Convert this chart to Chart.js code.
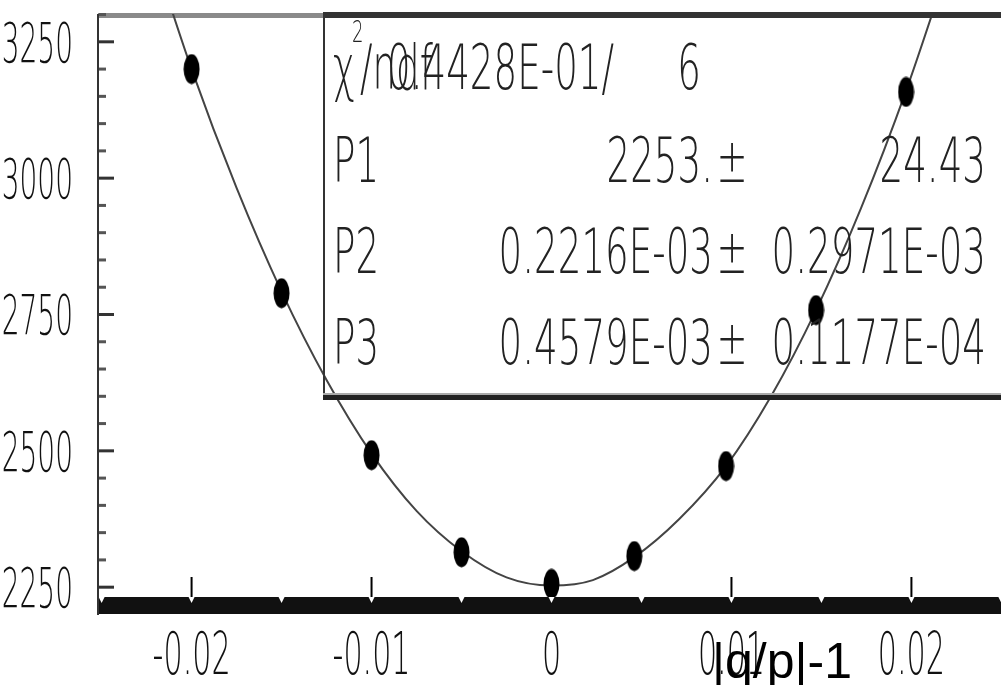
<!DOCTYPE html>
<html lang="en">
<head>
    <meta charset="UTF-8">
    <title>|q/p|-1 fit</title>
    <script src="https://cdn.jsdelivr.net/npm/chart.js"></script>
    <style>
        html, body { margin: 0; padding: 0; background: #fff; overflow: hidden; }
        canvas { display: block; }
    </style>
</head>
<body>
    <canvas id="fitChart" width="1015" height="685"></canvas>

    <script>
        // measured points
        const xValues = [-0.02, -0.015, -0.01, -0.005, 0, 0.0046, 0.0097, 0.0147, 0.0197];
        const yValues = [3200, 2789, 2492, 2314, 2256, 2307, 2472, 2758, 3158];

        // fitted curve
        const fitX = [-0.0225, -0.02, -0.0175, -0.015, -0.0125, -0.01, -0.0075, -0.005, -0.0025, 0,
                      0.0023, 0.0046, 0.0071, 0.0097, 0.0122, 0.0147, 0.0172, 0.0197, 0.0222];
        const fitY = [3450, 3200, 2982, 2792, 2630, 2495, 2390, 2316, 2268, 2253,
                      2263, 2305, 2375, 2472, 2600, 2758, 2945, 3160, 3405];

        // stats box
        const chi2Text = '0.4428E-01/';
        const ndfText = '6';
        const parNames = ['P1', 'P2', 'P3'];
        const parValues = ['2253.', '0.2216E-03', '0.4579E-03'];
        const parErrors = ['24.43', '0.2971E-03', '0.1177E-04'];

        const xTitle = '|q/p|-1';
        const xMajorStep = 0.01;
        const xMinorStep = 0.005;
        const yMajorStep = 250;
        const yMinorStep = 50;

        // narrow, thin text like the old plotting font
        function narrowText(ctx, str, x, y, size, sx, align, color) {
            ctx.save();
            ctx.font = '200 ' + size + 'px "DejaVu Sans"';
            ctx.fillStyle = color || '#222';
            ctx.textAlign = align;
            ctx.textBaseline = 'alphabetic';
            ctx.translate(x, y);
            ctx.scale(sx, 1);
            ctx.fillText(str, 0, 0);
            ctx.restore();
        }

        // elliptical marker
        const marker = document.createElement('canvas');
        marker.width = 17;
        marker.height = 31;
        const mctx = marker.getContext('2d');
        mctx.fillStyle = '#000';
        mctx.beginPath();
        mctx.ellipse(8.5, 15.5, 8, 15, 0, 0, Math.PI * 2);
        mctx.fill();

        function isStep(v, step) {
            return Math.abs(v / step - Math.round(v / step)) < 1e-6;
        }

        const framePlugin = {
            id: 'frame',
            beforeDatasetsDraw(chart) {
                const { ctx, chartArea, scales } = chart;
                const { left, top, right, bottom } = chartArea;
                ctx.save();

                // top edge
                ctx.fillStyle = '#8a8a8a';
                ctx.fillRect(left, top - 1, right - left, 5);

                // thick x axis band
                ctx.fillStyle = '#111';
                ctx.fillRect(left, bottom, right - left, 17);

                scales.x.ticks.forEach(t => {
                    if (!isStep(t.value, xMinorStep)) return;
                    const px = scales.x.getPixelForValue(t.value);
                    ctx.fillStyle = '#fff';
                    ctx.beginPath();
                    ctx.moveTo(px - 3, bottom);
                    ctx.lineTo(px + 3, bottom);
                    ctx.lineTo(px, bottom + 6);
                    ctx.closePath();
                    ctx.fill();
                    if (isStep(t.value, xMajorStep)) {
                        ctx.strokeStyle = '#000';
                        ctx.lineWidth = 2;
                        ctx.beginPath();
                        ctx.moveTo(px, bottom);
                        ctx.lineTo(px, bottom - 20);
                        ctx.stroke();
                    }
                });

                // y ticks drawn inward
                scales.y.ticks.forEach(t => {
                    if (!isStep(t.value, yMinorStep)) return;
                    const py = scales.y.getPixelForValue(t.value);
                    const major = isStep(t.value, yMajorStep);
                    ctx.fillStyle = major ? '#333' : '#555';
                    ctx.fillRect(left + 1, py - 1.5, major ? 15 : 7, 3);
                });

                // left axis
                ctx.fillStyle = '#333';
                ctx.fillRect(left - 1, top, 2, bottom + 18 - top);
                ctx.restore();
            },
            afterDraw(chart) {
                const { ctx, chartArea, scales } = chart;
                const { right } = chartArea;
                ctx.save();

                // stats box
                const bx = 323, by = 12, bb = 399;
                ctx.fillStyle = '#333';
                ctx.fillRect(bx, by, right - bx, 6);
                ctx.fillRect(bx, by, 2, bb - by);
                ctx.fillStyle = '#aaa';
                ctx.fillRect(bx, bb - 6, right - bx, 2);
                ctx.fillStyle = '#222';
                ctx.fillRect(bx, bb - 4, right - bx, 5);

                const size = 62, sx = 0.6;
                narrowText(ctx, '\u03c7', 333, 89, size, sx, 'left');
                narrowText(ctx, '2', 352, 42, 30, sx, 'left');
                narrowText(ctx, '/ndf', 360, 89, size, sx, 'left');
                narrowText(ctx, chi2Text, 614, 89, size, sx, 'right');
                narrowText(ctx, ndfText, 701, 89, size, sx, 'right');

                const rows = [182, 273, 364];
                parNames.forEach((name, i) => {
                    narrowText(ctx, name, 333, rows[i], size, sx, 'left');
                    narrowText(ctx, parValues[i], 713, rows[i], size, sx, 'right');
                    narrowText(ctx, '\u00b1', 732, rows[i], size, sx, 'center');
                    narrowText(ctx, parErrors[i], 986, rows[i], size, sx, 'right');
                });

                // axis labels
                scales.y.ticks.forEach(t => {
                    if (!isStep(t.value, yMajorStep)) return;
                    const py = scales.y.getPixelForValue(t.value);
                    narrowText(ctx, String(t.value), 73, py + 20, 56, 0.5, 'right', '#111');
                });
                scales.x.ticks.forEach(t => {
                    if (!isStep(t.value, xMajorStep)) return;
                    const v = Math.round(t.value / xMajorStep) * xMajorStep;
                    const label = v === 0 ? '0' : v.toFixed(2);
                    const px = scales.x.getPixelForValue(v);
                    narrowText(ctx, label, px, 674, 58, 0.52, 'center', '#111');
                });

                ctx.font = '50px "Liberation Sans", Arial, sans-serif';
                ctx.fillStyle = '#000';
                ctx.textAlign = 'left';
                ctx.textBaseline = 'alphabetic';
                ctx.fillText(xTitle, 712, 678);
                ctx.restore();
            }
        };

        const ctx = document.getElementById('fitChart').getContext('2d');
        const fitChart = new Chart(ctx, {
            type: 'scatter',
            data: {
                datasets: [
                    {
                        type: 'line',
                        label: 'fit',
                        data: fitX.map((x, i) => ({ x: x, y: fitY[i] })),
                        borderColor: '#444',
                        borderWidth: 2,
                        pointRadius: 0,
                        fill: false,
                        cubicInterpolationMode: 'monotone',
                        order: 2
                    },
                    {
                        label: 'data',
                        data: xValues.map((x, i) => ({ x: x, y: yValues[i] })),
                        pointStyle: marker,
                        pointRadius: 9,
                        backgroundColor: '#000',
                        borderColor: '#000',
                        order: 1
                    }
                ]
            },
            options: {
                responsive: false,
                devicePixelRatio: 1,
                animation: false,
                layout: { padding: { left: 98, top: 14, right: 3, bottom: 88 } },
                plugins: {
                    legend: { display: false },
                    tooltip: { enabled: false }
                },
                scales: {
                    x: {
                        type: 'linear',
                        min: -0.0252,
                        max: 0.0252,
                        grid: { display: false, drawTicks: false },
                        border: { display: false },
                        ticks: { display: false, stepSize: xMinorStep, includeBounds: false }
                    },
                    y: {
                        type: 'linear',
                        min: 2232,
                        max: 3301,
                        grid: { display: false, drawTicks: false },
                        border: { display: false },
                        ticks: { display: false, stepSize: yMinorStep, includeBounds: false }
                    }
                }
            },
            plugins: [framePlugin]
        });
    </script>
</body>
</html>
